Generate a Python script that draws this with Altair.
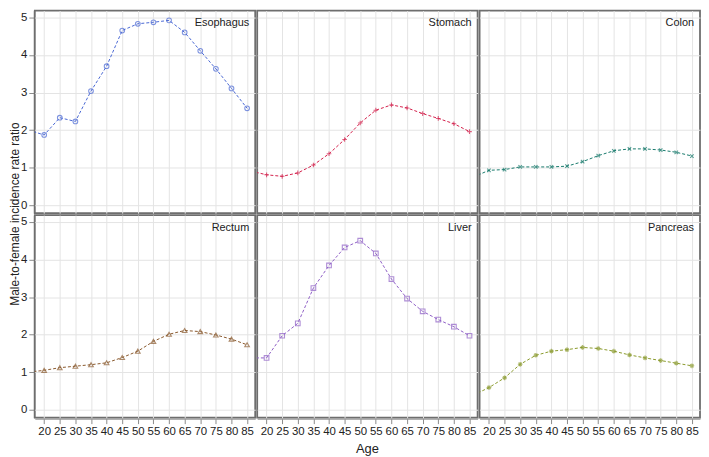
import altair as alt
import pandas as pd

ages = [15, 20, 25, 30, 35, 40, 45, 50, 55, 60, 65, 70, 75, 80, 85]
cancers = ["Esophagus", "Stomach", "Colon", "Rectum", "Liver", "Pancreas"]
esophagus = [2.00, 1.87, 2.33, 2.23, 3.04, 3.70, 4.65, 4.83, 4.87, 4.92, 4.60, 4.11, 3.63, 3.11, 2.58]
stomach = [0.91, 0.81, 0.77, 0.86, 1.07, 1.37, 1.75, 2.19, 2.53, 2.67, 2.59, 2.44, 2.31, 2.17, 1.96]
colon = [0.75, 0.93, 0.95, 1.02, 1.02, 1.02, 1.04, 1.16, 1.32, 1.45, 1.50, 1.50, 1.47, 1.41, 1.31]
rectum = [1.00, 1.05, 1.12, 1.16, 1.20, 1.25, 1.39, 1.56, 1.82, 2.01, 2.11, 2.08, 1.99, 1.88, 1.73]
liver = [1.38, 1.38, 1.97, 2.30, 3.24, 3.84, 4.32, 4.50, 4.16, 3.48, 2.96, 2.62, 2.40, 2.21, 1.97]
pancreas = [0.39, 0.59, 0.85, 1.21, 1.45, 1.56, 1.60, 1.66, 1.63, 1.56, 1.46, 1.38, 1.31, 1.24, 1.17]

colors = ["#4a68d4", "#d4204c", "#177a6c", "#8a5a2e", "#8e5fc6", "#8a9a2c"]
shapes = [
    "circle",
    "M-1,0H1M0,-1V1",
    "M-0.75,-0.75L0.75,0.75M-0.75,0.75L0.75,-0.75",
    "triangle-up",
    "square",
    "M-1,0H1M0,-1V1M-0.7,-0.7L0.7,0.7M-0.7,0.7L0.7,-0.7",
]
x_ticks = [20, 25, 30, 35, 40, 45, 50, 55, 60, 65, 70, 75, 80, 85]
y_ticks = [0, 1, 2, 3, 4, 5]

series = [esophagus, stomach, colon, rectum, liver, pancreas]
rows = []
for i, (name, vals) in enumerate(zip(cancers, series)):
    for a, v in zip(ages, vals):
        rows.append({"cancer": name, "age": a, "ratio": v, "r": i // 3, "c": i % 3})
df = pd.DataFrame(rows)

W, H = 222, 204

xenc = alt.X("age:Q", scale=alt.Scale(domain=[17, 87.6], nice=False),
             axis=alt.Axis(values=x_ticks, title=None))
yenc = alt.Y("ratio:Q", scale=alt.Scale(domain=[-0.21, 5.18], nice=False),
             axis=alt.Axis(values=y_ticks, title=None))
cenc = alt.Color("cancer:N", scale=alt.Scale(domain=cancers, range=colors), legend=None)
senc = alt.Shape("cancer:N", scale=alt.Scale(domain=cancers, range=shapes), legend=None)

base = alt.Chart().encode(x=xenc, y=yenc)

line = base.mark_line(strokeWidth=1, strokeDash=[3, 2], clip=True).encode(color=cenc)
pts = base.transform_filter("datum.age >= 20").mark_point(
    filled=False, size=22, strokeWidth=1.1, clip=True
).encode(color=cenc, shape=senc)
label = alt.Chart().transform_filter("datum.age == 85").mark_text(
    align="right", baseline="middle", fontSize=11, font="Liberation Sans", color="#222"
).encode(x=alt.value(W - 6), y=alt.value(13), text="cancer:N")

chart = alt.layer(line, pts, label, data=df).properties(width=W, height=H).facet(
    row=alt.Row("r:O", header=alt.Header(labels=False, labelPadding=0, title="Male-to-female incidence rate ratio",
                                           titleOrient="left", titleFontSize=12, titleFontWeight="normal",
                                           titleFont="Liberation Sans", titlePadding=-12, titleColor="#222")),
    column=alt.Column("c:O", header=alt.Header(labels=False, labelPadding=0, title="Age", titleOrient="bottom",
                                                titleFontSize=13, titleFontWeight="normal",
                                                titleFont="Liberation Sans", titlePadding=-4, titleColor="#222")),
    spacing=0,
).properties(padding={"left": 0, "top": 0, "right": 0, "bottom": 0}).configure_view(
    stroke="#6e6e6e", strokeWidth=1.8
).configure_axis(
    grid=True, gridColor="#e4e4e4", gridWidth=1, domainColor="#8a8a8a", tickColor="#8a8a8a",
    tickSize=5, labelFont="Liberation Sans", labelFontSize=11.5, labelColor="#222", labelPadding=2
)

chart.save("out.html", embed_options={"renderer": "svg", "actions": False})
